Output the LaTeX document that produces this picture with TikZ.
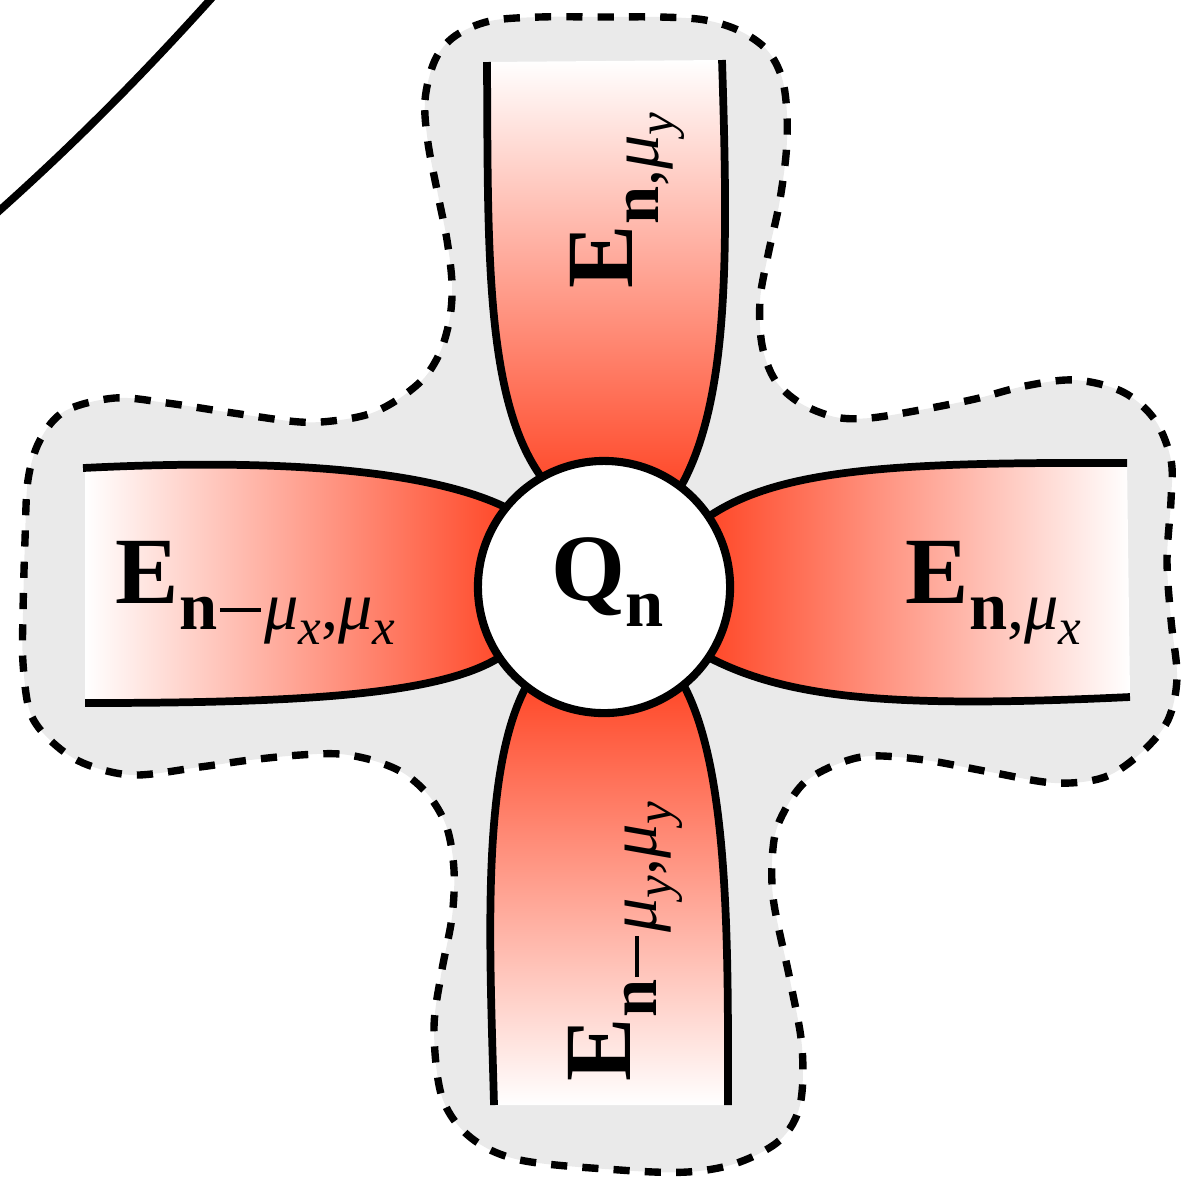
\documentclass[tikz,border=0pt]{standalone}
\usepackage{fontspec}
\setmainfont{Liberation Serif}
\definecolor{redzero}{RGB}{255,72,40}
\definecolor{grayzero}{RGB}{234,234,234}
\newcommand\lblE{{\fontsize{27}{30}\selectfont\bfseries E}}
\newcommand\lblQ{{\fontsize{27}{30}\selectfont\bfseries Q}}
\newcommand\lblsub[1]{\raisebox{-7.4pt}{\fontsize{19.5}{20}\selectfont #1}}
\newcommand\lblsubsub[1]{\raisebox{-4.3pt}{\fontsize{14.5}{15}\selectfont\itshape #1}}
\newcommand\muI{\textit{μ}}
\newcommand\mminus{\kern0.8pt\rule[4.9pt]{11.8pt}{0.95pt}\kern0.8pt}
\begin{document}
\begin{tikzpicture}[x=0.01cm,y=-0.01cm,
  armline/.style={line width=2.2pt, line cap=butt},
  outline/.style={line width=2.1pt, dash pattern=on 4.6pt off 4.3pt, fill=grayzero},
  lbl/.style={inner sep=0pt, anchor=base west}]
\useasboundingbox (0,0) rectangle (1204,1181);
\clip (0,0) rectangle (1204,1181);
% big arc top-left
\draw[armline] (-10,219) .. controls (70,148) and (140,78) .. (218,-9);
% gray dashed region
\draw[outline] plot[smooth cycle, tension=0.55] coordinates {
 (428,143) (425,100) (435,60) (455,36) (490,21) (540,17) (600,17) (660,17)
 (705,20) (740,31) (767,50) (782,78) (787,115) (786,155) (779,205) (768,255)
 (760,300) (762,345) (775,380) (800,403) (835,417) (870,418) (920,410)
 (975,399) (1025,386) (1075,380) (1123,392) (1155,420) (1171,460) (1171,500)
 (1167,560) (1171,620) (1177,677) (1168,720) (1142,752) (1105,777) (1055,783)
 (990,772) (925,760) (870,756) (835,765) (805,782) (786,808) (774,840)
 (773,897) (790,980) (802,1047) (800,1105) (780,1140) (737,1163) (687,1172)
 (620,1170) (520,1160) (470,1137) (442,1097) (434,1030) (441,975) (452,917)
 (454,870) (447,828) (430,797) (405,774) (375,761) (340,754) (300,755)
 (250,760) (200,767) (133,775) (83,763) (50,740) (30,712) (23,663) (23,613)
 (25,540) (28,480) (40,440) (65,411) (115,398) (167,403) (233,413) (300,422)
 (340,420) (372,413) (400,398) (425,377) (441,350) (450,317) (452,283)
 (447,240) (438,195)};
% arm fills
\shade[left color=white, right color=redzero] (85,468) .. controls (280,458) and (430,470) .. (507,508) -- (500,657) .. controls (440,695) and (300,703) .. (85,703) -- cycle;
\shade[left color=redzero, right color=white] (708,517) .. controls (780,468) and (900,462) .. (1127,463) -- (1130,697) .. controls (900,708) and (790,700) .. (708,657) -- cycle;
\shade[top color=white, bottom color=redzero] (487,62) .. controls (488,250) and (485,400) .. (542,478) -- (680,488) .. controls (730,400) and (728,250) .. (722,60) -- cycle;
\shade[top color=redzero, bottom color=white] (527,685) .. controls (480,770) and (490,950) .. (494,1105) -- (728,1105) .. controls (728,950) and (730,770) .. (683,684) -- cycle;
% arm lines
\draw[armline] (83,468) .. controls (280,458) and (430,470) .. (507,508);
\draw[armline] (85,703) .. controls (300,703) and (440,695) .. (500,657);
\draw[armline] (708,517) .. controls (780,468) and (900,462) .. (1127,463);
\draw[armline] (708,657) .. controls (790,700) and (900,708) .. (1130,697);
\draw[armline] (487,62) .. controls (488,250) and (485,400) .. (542,478);
\draw[armline] (722,60) .. controls (728,250) and (730,400) .. (680,488);
\draw[armline] (527,685) .. controls (480,770) and (490,950) .. (494,1105);
\draw[armline] (683,684) .. controls (730,770) and (728,950) .. (728,1105);
% central circle
\node[circle, draw, fill=white, line width=2.3pt, minimum size=2.52cm, inner sep=0pt] (Q) at (604,587) {};
\node[lbl] (Qlab) at (551,600) {\lblQ\lblsub{\textbf{n}}};
% labels
\node[lbl] (Eleft) at (115,603) {\lblE\lblsub{\textbf{n}\mminus\muI\lblsubsub{x},\muI\lblsubsub{x}}};
\node[lbl] (Eright) at (905,603) {\lblE\lblsub{\textbf{n},\muI\lblsubsub{x}}};
\node[lbl, rotate=90] (Etop) at (632,289) {\lblE\lblsub{\textbf{n},\muI\lblsubsub{y}}};
\node[lbl, rotate=90] (Ebot) at (630,1082) {\lblE\lblsub{\textbf{n}\mminus\muI\lblsubsub{y},\muI\lblsubsub{y}}};
\end{tikzpicture}
\end{document}
